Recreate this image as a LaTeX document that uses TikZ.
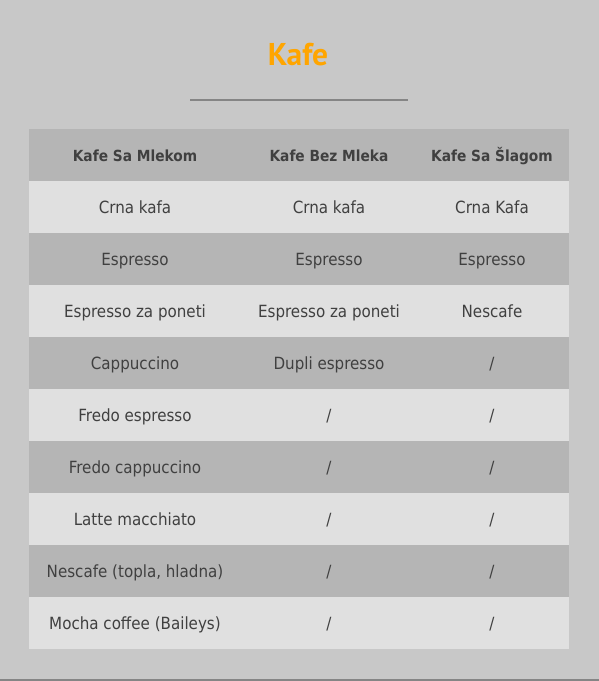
\documentclass[tikz,border=0pt]{standalone}
\usepackage{fontspec}
\setmainfont{DejaVu Sans Condensed}
\newfontfamily\titlefont{PT Sans}
\definecolor{bg}{HTML}{C8C8C8}
\definecolor{hdr}{HTML}{B5B5B5}
\definecolor{lite}{HTML}{E0E0E0}
\definecolor{txt}{HTML}{404040}
\definecolor{rule}{HTML}{858585}
\definecolor{ttl}{HTML}{FFA500}
\begin{document}
\begin{tikzpicture}[x=1pt,y=-1pt,
  cell/.style={font=\fontsize{16.8}{19}\selectfont, text=txt, inner sep=0pt, anchor=base},
  hcell/.style={cell, font=\fontsize{15.3}{18}\selectfont\bfseries}]
\useasboundingbox (0,0) rectangle (599,681);
\fill[bg] (0,0) rectangle (599,681);
\node[font=\titlefont\fontsize{31.5}{34}\selectfont\bfseries, text=ttl, inner sep=0pt, anchor=base] (title) at (298,65) {Kafe};
\coordinate (ruleL) at (190,100);
\coordinate (ruleR) at (408,100);
\draw[rule, line width=2pt] (ruleL) -- (ruleR);
\coordinate (botL) at (0,680);
\coordinate (botR) at (599,680);
\draw[rule, line width=2pt] (botL) -- (botR);
% rows
\fill[hdr] (29,129) rectangle (569,181);
\foreach \i in {0,...,8} {
  \pgfmathsetmacro\ytop{181+52*\i}
  \pgfmathparse{mod(\i,2)==0 ? 1 : 0}
  \ifnum\pgfmathresult=1
    \fill[lite] (29,\ytop) rectangle (569,\ytop+52);
  \else
    \fill[hdr] (29,\ytop) rectangle (569,\ytop+52);
  \fi
}
% header
\node[hcell] (h1) at (135,161) {Kafe Sa Mlekom};
\node[hcell] (h2) at (329,161) {Kafe Bez Mleka};
\node[hcell] (h3) at (492,161) {Kafe Sa Šlagom};
% body
\node[cell] (r1c1) at (135,213) {Crna kafa};
\node[cell] (r1c2) at (329,213) {Crna kafa};
\node[cell] (r1c3) at (492,213) {Crna Kafa};
\node[cell] (r2c1) at (135,265) {Espresso};
\node[cell] (r2c2) at (329,265) {Espresso};
\node[cell] (r2c3) at (492,265) {Espresso};
\node[cell] (r3c1) at (135,317) {Espresso za poneti};
\node[cell] (r3c2) at (329,317) {Espresso za poneti};
\node[cell] (r3c3) at (492,317) {Nescafe};
\node[cell] (r4c1) at (135,369) {Cappuccino};
\node[cell] (r4c2) at (329,369) {Dupli espresso};
\node[cell] (r4c3) at (492,369) {/};
\node[cell] (r5c1) at (135,421) {Fredo espresso};
\node[cell] (r5c2) at (329,421) {/};
\node[cell] (r5c3) at (492,421) {/};
\node[cell] (r6c1) at (135,473) {Fredo cappuccino};
\node[cell] (r6c2) at (329,473) {/};
\node[cell] (r6c3) at (492,473) {/};
\node[cell] (r7c1) at (135,525) {Latte macchiato};
\node[cell] (r7c2) at (329,525) {/};
\node[cell] (r7c3) at (492,525) {/};
\node[cell] (r8c1) at (135,577) {Nescafe (topla, hladna)};
\node[cell] (r8c2) at (329,577) {/};
\node[cell] (r8c3) at (492,577) {/};
\node[cell] (r9c1) at (135,629) {Mocha coffee (Baileys)};
\node[cell] (r9c2) at (329,629) {/};
\node[cell] (r9c3) at (492,629) {/};
\end{tikzpicture}
\end{document}
